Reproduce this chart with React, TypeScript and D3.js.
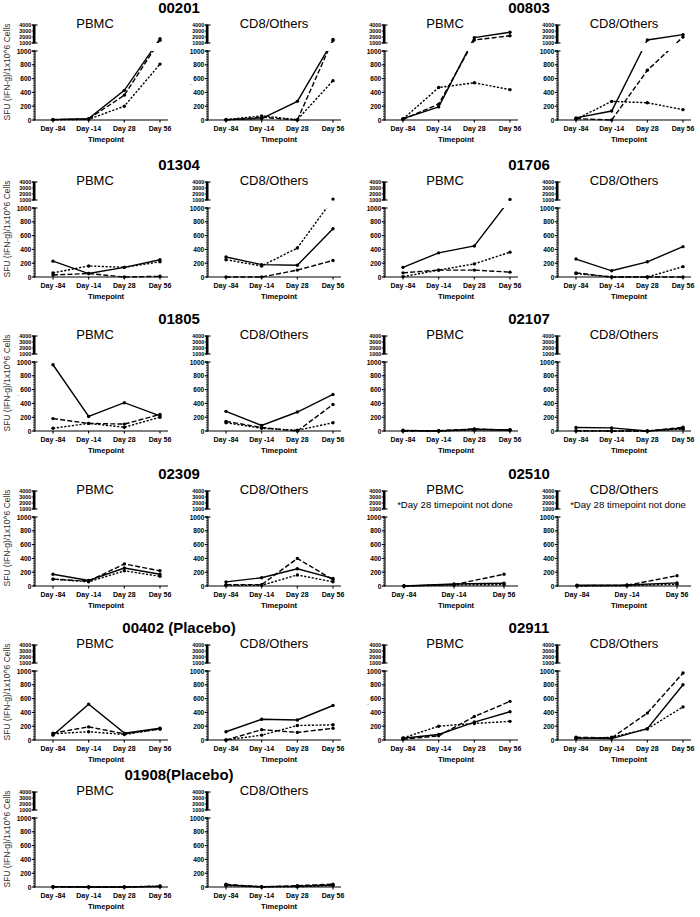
import React from "react";
import * as d3 from "d3";

const cats4 = ["Day -84", "Day -14", "Day 28", "Day 56"];
const cats3 = ["Day -84", "Day -14", "Day 56"];
const panelTitles = ["PBMC", "CD8/Others"];
const patientIds = ["00201", "00803", "01304", "01706", "01805", "02107", "02309", "02510", "00402 (Placebo)", "02911", "01908(Placebo)"];
const lowerTicks = [0, 200, 400, 600, 800, 1000];
const upperTicks = [1000, 2000, 3000, 4000];
const noteText = "*Day 28 timepoint not done";
const yTitle = "SFU (IFN-g)/1x10^6 Cells";

// each panel: [solid, long dash, short dash]
const pbmc00201 = [[5, 20, 430, 1700], [5, 15, 360, 1450], [5, 10, 200, 810]];
const cd800201 = [[5, 20, 270, 1400], [0, 40, 0, 1600], [5, 60, 5, 570]];
const pbmc00803 = [[20, 190, 1900, 2800], [10, 230, 1500, 2200], [15, 470, 540, 440]];
const cd800803 = [[30, 130, 1500, 2400], [20, 0, 720, 2000], [10, 270, 250, 150]];
const pbmc01304 = [[230, 50, 140, 250], [30, 50, 0, 10], [60, 160, 140, 220]];
const cd801304 = [[290, 180, 170, 700], [0, 0, 100, 240], [250, 160, 420, 1150]];
const pbmc01706 = [[140, 350, 450, 1100], [60, 100, 100, 70], [5, 100, 190, 360]];
const cd801706 = [[260, 90, 220, 440], [60, 0, 0, 0], [50, 0, 0, 150]];
const pbmc01805 = [[960, 210, 410, 220], [180, 110, 100, 240], [40, 110, 55, 200]];
const cd801805 = [[285, 80, 275, 530], [140, 50, 0, 385], [120, 40, 10, 120]];
const pbmc02107 = [[5, 0, 25, 15], [0, 5, 30, 10], [10, 0, 15, 20]];
const cd802107 = [[50, 45, 0, 40], [5, 0, 0, 55], [0, 0, 0, 25]];
const pbmc02309 = [[170, 80, 260, 170], [100, 70, 320, 220], [100, 60, 220, 140]];
const cd802309 = [[60, 120, 250, 110], [20, 20, 400, 90], [10, 10, 160, 60]];
const pbmc02510 = [[0, 30, 40], [0, 20, 170], [0, 15, 20]];
const cd802510 = [[10, 15, 45], [5, 10, 150], [0, 5, 25]];
const pbmc00402 = [[70, 520, 100, 170], [100, 190, 90, 160], [90, 120, 80, 160]];
const cd800402 = [[120, 300, 290, 500], [0, 150, 110, 170], [0, 70, 210, 220]];
const pbmc02911 = [[25, 80, 260, 410], [10, 60, 340, 560], [30, 200, 240, 270]];
const cd802911 = [[30, 20, 165, 800], [40, 30, 390, 970], [20, 40, 160, 480]];
const pbmc01908 = [[5, 0, 0, 5], [0, 0, 0, 10], [5, 0, 0, 15]];
const cd801908 = [[30, 5, 10, 30], [40, 0, 20, 40], [20, 0, 5, 20]];

const pbmcData = [pbmc00201, pbmc00803, pbmc01304, pbmc01706, pbmc01805, pbmc02107, pbmc02309, pbmc02510, pbmc00402, pbmc02911, pbmc01908];
const cd8Data = [cd800201, cd800803, cd801304, cd801706, cd801805, cd802107, cd802309, cd802510, cd800402, cd802911, cd801908];
const notePatients = ["02510"];

const rowTop = [7, 164, 318, 473, 627, 774];
const blockX = [0, 350];
const axisOffsets = [35, 208];
const titleOffsets = [60, 66];
const dashes = ["", "5,2.2", "2.2,1.6"];
const FONT = "'Liberation Sans', Arial, Helvetica, sans-serif";

// tiny stray marks visible in the original
const strayDots = [[1, 0, 0], [2, 0, 0], [3, 0, 0], [0, 0, 1], [3, 0, 1], [4, 1, 0]];

type PanelProps = {
  x0: number;
  T: number;
  cats: string[];
  data: number[][];
  title: string;
  titleOff: number;
  note: boolean;
  id: string;
};

function Panel({ x0, T, cats, data, title, titleOff, note, id }: PanelProps) {
  const yLow = d3.scaleLinear().domain([0, 1000]).range([T + 113, T + 44]);
  const yHigh = d3.scaleLinear().domain([1000, 4000]).range([T + 36, T + 18]);
  const yv = (v: number) => (v <= 1000 ? yLow(v) : yHigh(v));
  const xs = d3
    .scalePoint<string>()
    .domain(cats)
    .range(cats.length === 4 ? [x0 + 18, x0 + 125] : [x0 + 19, x0 + 119]);
  const line = d3
    .line<number>()
    .x((_, i) => xs(cats[i]) as number)
    .y((d) => yv(d));
  const minorLow = d3.range(0, 1001, 25);
  const axisEnd = x0 + 133;
  return (
    <g>
      <defs>
        <clipPath id={`lo${id}`}>
          <rect x={x0 - 2} y={T + 44} width={140} height={76} />
        </clipPath>
        <clipPath id={`hi${id}`}>
          <rect x={x0 - 2} y={T + 12} width={140} height={24} />
        </clipPath>
      </defs>
      <text x={x0 + titleOff} y={T + 16} fontSize={13} textAnchor="middle" dominantBaseline="central" fontFamily={FONT}>
        {title}
      </text>
      {note && (
        <text x={x0 + 70} y={T + 31} fontSize={9.6} textAnchor="middle" dominantBaseline="central" fontFamily={FONT}>
          {noteText}
        </text>
      )}
      {/* lower y axis */}
      <g stroke="#000" fill="none">
        <line x1={x0} x2={x0} y1={T + 44} y2={T + 113} strokeWidth={1.1} />
        <line x1={x0 - 3} x2={x0 + 2.5} y1={T + 44} y2={T + 44} strokeWidth={1.1} />
        {minorLow.map((v) => (
          <line key={`ml${v}`} x1={x0 - 2} x2={x0} y1={yLow(v)} y2={yLow(v)} strokeWidth={0.7} />
        ))}
        {lowerTicks.map((v) => (
          <line key={`Ml${v}`} x1={x0 - 3.2} x2={x0} y1={yLow(v)} y2={yLow(v)} strokeWidth={1.1} />
        ))}
        {/* upper y axis: dense minor ticks render as a solid bar */}
        <rect x={x0 - 2.2} y={T + 18} width={2.7} height={18} fill="#000" stroke="none" />
        <line x1={x0 - 3.2} x2={x0 + 2.5} y1={T + 18} y2={T + 18} strokeWidth={1.1} />
        <line x1={x0 - 3.2} x2={x0 + 2.5} y1={T + 36} y2={T + 36} strokeWidth={1.1} />
        {upperTicks.map((v) => (
          <line key={`Mh${v}`} x1={x0 - 3.2} x2={x0} y1={yHigh(v)} y2={yHigh(v)} strokeWidth={0.8} />
        ))}
        {/* x axis */}
        <line x1={x0 - 1} x2={axisEnd} y1={T + 113} y2={T + 113} strokeWidth={1.2} />
        {cats.map((c) => (
          <line key={`xt${c}`} x1={xs(c)} x2={xs(c)} y1={T + 113} y2={T + 115.5} strokeWidth={1.1} />
        ))}
      </g>
      <g fontFamily={FONT} fontWeight="bold" fill="#000">
        {lowerTicks.map((v) => (
          <text key={`lt${v}`} x={x0 - 3.7} y={yLow(v)} fontSize={6.6} textAnchor="end" dominantBaseline="central">
            {v}
          </text>
        ))}
        {upperTicks.map((v) => (
          <text key={`ut${v}`} x={x0 - 3.7} y={yHigh(v)} fontSize={5.4} textAnchor="end" dominantBaseline="central">
            {v}
          </text>
        ))}
        {cats.map((c) => (
          <text key={`xl${c}`} x={xs(c)} y={T + 121} fontSize={7} textAnchor="middle" dominantBaseline="central">
            {c}
          </text>
        ))}
        <text x={x0 + 71} y={T + 132} fontSize={7.6} textAnchor="middle" dominantBaseline="central">
          Timepoint
        </text>
      </g>
      {/* series lines, clipped to each axis segment */}
      {data.map((s, k) => (
        <g key={`s${k}`} fill="none" stroke="#000" strokeWidth={1.4} strokeDasharray={dashes[k]}>
          <path d={line(s) as string} clipPath={`url(#lo${id})`} />
          <path d={line(s) as string} clipPath={`url(#hi${id})`} />
        </g>
      ))}
      {data.map((s, k) =>
        s.map((v, i) => <circle key={`p${k}-${i}`} cx={xs(cats[i])} cy={yv(v)} r={1.7} fill="#000" />)
      )}
    </g>
  );
}

export default function App() {
  return (
    <svg width={700} height={917} style={{ position: "absolute", left: 0, top: 0, background: "#fff" }}>
      <rect x={0} y={0} width={700} height={917} fill="#fff" />
      {patientIds.map((pid, i) => {
        const row = Math.floor(i / 2);
        const b = i % 2;
        const T = rowTop[row];
        const bx = blockX[b];
        const is3 = notePatients.includes(pid);
        const cats = is3 ? cats3 : cats4;
        return (
          <g key={pid}>
            <text x={bx + 179} y={T} fontSize={15} fontWeight="bold" textAnchor="middle" dominantBaseline="central" fontFamily={FONT}>
              {pid}
            </text>
            {b === 0 && (
              <text
                transform={`translate(7,${T + 65}) rotate(-90)`}
                fontSize={8.5}
                textAnchor="middle"
                dominantBaseline="central"
                fontFamily={FONT}
                fill="#333"
              >
                {yTitle}
              </text>
            )}
            {[pbmcData[i], cd8Data[i]].map((d, p) => (
              <Panel
                key={p}
                id={`${i}_${p}`}
                x0={bx + axisOffsets[p]}
                T={T}
                cats={cats}
                data={d}
                title={panelTitles[p]}
                titleOff={titleOffsets[p]}
                note={is3}
              />
            ))}
          </g>
        );
      })}
      {strayDots.map(([r, b, p], j) => (
        <text key={`dot${j}`} x={blockX[b] + axisOffsets[p] - 18} y={rowTop[r] + 78} fontSize={7} fontFamily={FONT} fill="#555">
          .
        </text>
      ))}
    </svg>
  );
}
